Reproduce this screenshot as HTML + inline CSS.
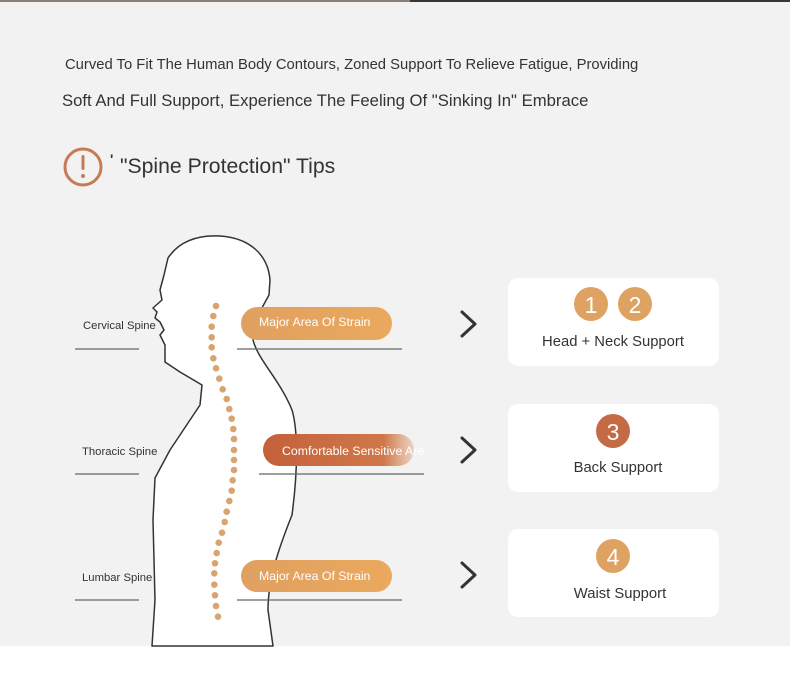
<!DOCTYPE html>
<html><head><meta charset="utf-8"><style>
body{margin:0;width:790px;height:673px;overflow:hidden;background:#fff;font-family:"Liberation Sans",sans-serif;}
</style></head><body>
<svg width="790" height="673" viewBox="0 0 790 673" xmlns="http://www.w3.org/2000/svg" font-family="Liberation Sans, sans-serif">
<defs>
<linearGradient id="g1" x1="0" x2="1"><stop offset="0" stop-color="#e0a060"/><stop offset="1" stop-color="#eaa95e"/></linearGradient>
<linearGradient id="g2" x1="0" x2="1"><stop offset="0" stop-color="#c4603a"/><stop offset="0.8" stop-color="#d0784a"/><stop offset="1" stop-color="#d88a5c" stop-opacity="0.3"/></linearGradient>
</defs>
<rect x="0" y="0" width="790" height="646" fill="#f2f2f2"/>
<rect x="0" y="0" width="790" height="2" fill="#8a8078"/>
<rect x="410" y="0" width="380" height="2" fill="#3a3632"/>
<text x="65" y="69" font-size="14.8" fill="#333">Curved To Fit The Human Body Contours, Zoned Support To Relieve Fatigue, Providing</text>
<text x="62" y="106" font-size="16.7" fill="#333">Soft And Full Support, Experience The Feeling Of "Sinking In" Embrace</text>
<circle cx="83" cy="167" r="18" fill="none" stroke="#c87a55" stroke-width="3"/>
<rect x="81.5" y="155" width="3" height="15" rx="1.5" fill="#c87a55"/>
<circle cx="83" cy="176" r="2" fill="#c87a55"/>
<text x="110" y="164" font-size="14" font-weight="bold" fill="#333">'</text>
<text x="120" y="173" font-size="21.2" fill="#333">"Spine Protection" Tips</text>
<path d="M152,646 L155,600 L153,520 L155,478 L170,450 L200,405 L202,385 L180,372 L165,362 L165,345 L160,335 L164,330 L160,322 L155,318 L157,312 L153,308 L162,300 L160,290 L164,275 L168,258 C180,240 200,235 220,236 C250,238 268,255 270,280 L269,295 L258,315 L253,340 C258,360 280,380 292,410 C298,430 298,470 292,515 C278,550 268,580 268,610 L273,646 Z" fill="#fff" stroke="#333" stroke-width="1.5" stroke-linejoin="round"/>
<g fill="#d9a46e">
<circle cx="216" cy="306" r="3.3"/><circle cx="213.3" cy="316" r="3.3"/><circle cx="211.7" cy="326.7" r="3.3"/><circle cx="211.7" cy="337.3" r="3.3"/><circle cx="211.7" cy="347.3" r="3.3"/><circle cx="213.3" cy="358.3" r="3.3"/><circle cx="216" cy="368.3" r="3.3"/><circle cx="219.3" cy="378.7" r="3.3"/><circle cx="222.7" cy="389.3" r="3.3"/><circle cx="226.7" cy="399" r="3.3"/><circle cx="229.3" cy="409" r="3.3"/><circle cx="231.7" cy="418.7" r="3.3"/><circle cx="233.3" cy="429" r="3.3"/><circle cx="234" cy="439" r="3.3"/><circle cx="234" cy="450" r="3.3"/><circle cx="234" cy="460" r="3.3"/><circle cx="234" cy="470" r="3.3"/><circle cx="232.7" cy="480.3" r="3.3"/><circle cx="231.7" cy="490.7" r="3.3"/><circle cx="229.3" cy="501" r="3.3"/><circle cx="226.7" cy="511.7" r="3.3"/><circle cx="224.7" cy="522" r="3.3"/><circle cx="222" cy="532.7" r="3.3"/><circle cx="218.7" cy="542.7" r="3.3"/><circle cx="216.7" cy="553" r="3.3"/><circle cx="215" cy="563.3" r="3.3"/><circle cx="214.3" cy="573.3" r="3.3"/><circle cx="214.3" cy="584.7" r="3.3"/><circle cx="215" cy="595.3" r="3.3"/><circle cx="216" cy="606" r="3.3"/><circle cx="218" cy="616.7" r="3.3"/>
</g>
<g stroke="#666" stroke-width="1.3">
<line x1="75" y1="349" x2="139" y2="349"/><line x1="75" y1="474" x2="139" y2="474"/><line x1="75" y1="600" x2="139" y2="600"/>
<line x1="237" y1="349" x2="402" y2="349"/><line x1="259" y1="474" x2="424" y2="474"/><line x1="237" y1="600" x2="402" y2="600"/>
</g>
<text x="83" y="329" font-size="11.3" fill="#333">Cervical Spine</text>
<text x="82" y="455" font-size="11.3" fill="#333">Thoracic Spine</text>
<text x="82" y="581" font-size="11.3" fill="#333">Lumbar Spine</text>
<rect x="241" y="307" width="151" height="33" rx="16.5" fill="url(#g1)"/>
<text x="259" y="326" font-size="12.3" fill="#fff">Major Area Of Strain</text>
<rect x="263" y="434" width="151" height="32" rx="16" fill="url(#g2)"/>
<svg x="263" y="434" width="162" height="32"><text x="19" y="21" font-size="12.3" fill="#fff">Comfortable Sensitive Area</text></svg>
<rect x="241" y="560" width="151" height="32" rx="16" fill="url(#g1)"/>
<text x="259" y="580" font-size="12.3" fill="#fff">Major Area Of Strain</text>
<g fill="none" stroke="#333" stroke-width="3" stroke-linecap="round" stroke-linejoin="round">
<polyline points="462,312 475,324 462,336"/><polyline points="462,438 475,450 462,462"/><polyline points="462,563 475,575 462,587"/>
</g>
<rect x="508" y="278" width="211" height="88" rx="10" fill="#fff"/>
<rect x="508" y="404" width="211" height="88" rx="10" fill="#fff"/>
<rect x="508" y="529" width="211" height="88" rx="10" fill="#fff"/>
<circle cx="591" cy="304" r="17" fill="#dea262"/><text x="591" y="313" font-size="23" fill="#fff" text-anchor="middle">1</text>
<circle cx="635" cy="304" r="17" fill="#dea262"/><text x="635" y="313" font-size="23" fill="#fff" text-anchor="middle">2</text>
<text x="613" y="346" font-size="14.8" fill="#333" text-anchor="middle">Head + Neck Support</text>
<circle cx="613" cy="431" r="17" fill="#c46a45"/><text x="613" y="440" font-size="23" fill="#fff" text-anchor="middle">3</text>
<text x="618" y="472" font-size="14.8" fill="#333" text-anchor="middle">Back Support</text>
<circle cx="613" cy="556" r="17" fill="#dea262"/><text x="613" y="565" font-size="23" fill="#fff" text-anchor="middle">4</text>
<text x="620" y="598" font-size="14.8" fill="#333" text-anchor="middle">Waist Support</text>
</svg>
</body></html>
